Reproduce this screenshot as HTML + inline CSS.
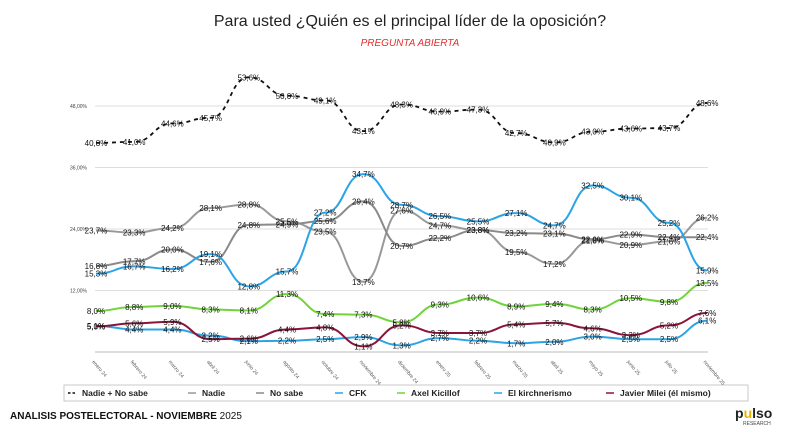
<!DOCTYPE html>
<html><head><meta charset="utf-8"><style>
body{margin:0;background:#fff;width:800px;height:429px;overflow:hidden;font-family:"Liberation Sans",sans-serif}
</style></head><body>
<svg id="c" width="800" height="429" xmlns="http://www.w3.org/2000/svg">
<text x="410" y="26" text-anchor="middle" font-size="16" fill="#222">Para usted ¿Quién es el principal líder de la oposición?</text>
<text x="410" y="46" text-anchor="middle" font-size="10" font-style="italic" fill="#e03030">PREGUNTA ABIERTA</text>
<g id="grid"></g><g id="lines"></g><g id="labels"></g><g id="xt"></g>
<rect x="64" y="385" width="684" height="16" fill="none" stroke="#bbb" stroke-width="0.8"/>
<g id="leg"></g>
<text x="10" y="419" font-size="10" font-weight="bold" fill="#111">ANALISIS POSTELECTORAL - NOVIEMBRE <tspan font-weight="normal">2025</tspan></text>
<text x="735" y="418" font-size="14" font-weight="bold" fill="#222">p<tspan fill="#e8b400">u</tspan>lso</text>
<text x="743" y="425" font-size="5" fill="#444">RESEARCH</text>
</svg>
<script>
const categories=["enero 24","febrero 24","marzo 24","abril 24","junio 24","agosto 24","octubre 24","noviembre 24","diciembre 24","enero 25","febrero 25","marzo 25","abril 25","mayo 25","junio 25","julio 25","noviembre 25"];
const nadieNoSabe=[40.8,41.0,44.6,45.7,53.6,50.0,49.1,43.1,48.3,46.9,47.3,42.7,40.9,43.0,43.6,43.7,48.6];
const nadie=[23.7,23.3,24.2,28.1,28.8,25.5,23.5,13.7,27.6,24.7,23.8,19.5,17.2,21.8,20.9,21.6,26.2];
const noSabe=[16.8,17.7,20.0,17.6,24.8,24.9,25.6,29.4,20.7,22.2,23.8,23.2,23.1,22.0,22.9,22.4,22.4];
const cfk=[15.3,16.7,16.2,19.1,12.8,15.7,27.2,34.7,28.7,26.5,25.5,27.1,24.7,32.5,30.1,25.2,15.9];
const kicillof=[8.0,8.8,9.0,8.3,8.1,11.3,7.4,7.3,5.8,9.3,10.6,8.9,9.4,8.3,10.5,9.8,13.5];
const kirchnerismo=[5.1,4.4,4.4,3.2,2.1,2.2,2.5,2.9,1.3,2.7,2.2,1.7,2.0,3.0,2.5,2.5,6.1];
const milei=[5.0,5.6,5.9,2.5,2.6,4.4,4.8,1.1,5.2,3.7,3.7,5.4,5.7,4.6,3.3,5.2,7.6];
const yTicks=[12,24,36,48];
const seriesNames=["Nadie + No sabe","Nadie","No sabe","CFK","Axel Kicillof","El kirchnerismo","Javier Milei (él mismo)"];
const NS="http://www.w3.org/2000/svg";
const X=i=>96+i*38.2, Y=v=>352-v*5.125;
function mk(t,a,p){const e=document.createElementNS(NS,t);for(const k in a)e.setAttribute(k,a[k]);document.getElementById(p).appendChild(e);return e;}
yTicks.forEach(t=>{const l=mk('line',{x1:95,x2:708,y1:Y(t),y2:Y(t),stroke:'#ddd','stroke-width':1},'grid');


const tx=mk('text',{x:70,y:Y(t)+2,'font-size':5,fill:'#444'},'grid');tx.textContent=t.toFixed(2).replace('.',',')+'%';

});
const ax=mk('line',{x1:95,x2:708,y1:Y(0),y2:Y(0),stroke:'#bbb','stroke-width':1},'grid');


categories.forEach((c,i)=>{const t=mk('text',{x:X(i)-4,y:362,'font-size':5,fill:'#555',transform:`rotate(50 ${X(i)-4} 362)`},'xt');t.textContent=c;

});
const series=[[nadieNoSabe,'#111',1.8,'4 4'],[nadie,'#999',2,''],[noSabe,'#8a8a8a',2,''],[cfk,'#2ba3e6',2,''],[kicillof,'#6fd33a',2,''],[kirchnerismo,'#2ba3e6',2,''],[milei,'#8a1538',2,'']];
function path(d){let s=`M${X(0)},${Y(d[0])}`;for(let i=1;i<d.length;i++){const x0=X(i-1),x1=X(i),m=(x0+x1)/2;s+=` C${m},${Y(d[i-1])} ${m},${Y(d[i])} ${x1},${Y(d[i])}`;}return s;}
series.forEach((s,k)=>{const p=mk('path',{d:path(s[0]),fill:'none',stroke:s[1],'stroke-width':s[2],'stroke-dasharray':s[3]},'lines');


s[0].forEach((v,i)=>{const t=mk('text',{x:X(i),y:Y(v)+3,'text-anchor':'middle','font-size':8,fill:'#111'},'labels');t.textContent=v.toFixed(1).replace('.',',')+'%';

});});
const legX=[68,188,256,335,397,494,606];
series.forEach((s,k)=>{const lx=legX[k];const l=mk('line',{x1:lx,x2:lx+8,y1:393,y2:393,stroke:s[1],'stroke-width':1.5,'stroke-dasharray':s[3]?'2.5 2':''},'leg');


const t=mk('text',{x:lx+14,y:396,'font-size':8.5,'font-weight':'bold',fill:'#222'},'leg');t.textContent=seriesNames[k];

});
</script>
</body></html>
